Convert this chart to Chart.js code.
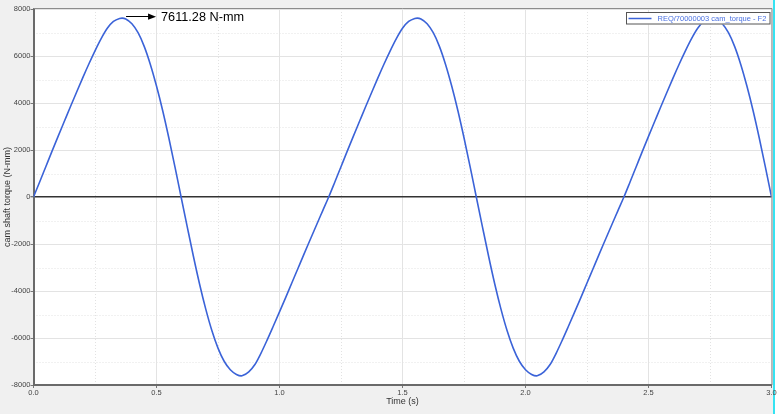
<!DOCTYPE html>
<html><head><meta charset="utf-8">
<script src="https://cdn.jsdelivr.net/npm/chart.js@4/dist/chart.umd.min.js"></script>
<style>html,body{margin:0;padding:0;background:#f0f0f0;overflow:hidden}canvas{display:block}</style>
</head><body>
<canvas id="c" width="779" height="414"></canvas>
<script>
// ---- data ----
const timeS = [
  0, 0.025, 0.05, 0.075, 0.1, 0.125, 0.15, 0.175, 0.2, 0.225, 0.25, 0.275, 0.3, 0.325, 0.35, 0.36, 0.375, 0.4, 0.425, 0.45, 0.475, 0.5, 0.525, 0.55, 0.575,
  0.6, 0.625, 0.65, 0.675, 0.7, 0.725, 0.75, 0.775, 0.8, 0.825, 0.845, 0.85, 0.875, 0.9, 0.925, 0.95, 0.975, 1.0, 1.025, 1.05, 1.075, 1.1, 1.125, 1.15, 1.175,
  1.2, 1.225, 1.25, 1.275, 1.3, 1.325, 1.35, 1.375, 1.4, 1.425, 1.45, 1.475, 1.5, 1.525, 1.55, 1.56, 1.575, 1.6, 1.625, 1.65, 1.675, 1.7, 1.725, 1.75, 1.775,
  1.8, 1.825, 1.85, 1.875, 1.9, 1.925, 1.95, 1.975, 2.0, 2.025, 2.045, 2.05, 2.075, 2.1, 2.125, 2.15, 2.175, 2.2, 2.225, 2.25, 2.275, 2.3, 2.325, 2.35, 2.375,
  2.4, 2.425, 2.45, 2.475, 2.5, 2.525, 2.55, 2.575, 2.6, 2.625, 2.65, 2.675, 2.7, 2.725, 2.75, 2.76, 2.775, 2.8, 2.825, 2.85, 2.875, 2.9, 2.925, 2.95, 2.975, 3.0
];
const torqueNmm = [
  0, 640, 1290, 1940, 2580, 3210, 3840, 4460, 5070, 5660, 6220, 6740, 7180, 7470, 7600, 7611.28, 7575, 7370, 6990, 6410, 5640, 4720, 3680, 2520, 1280,
  0, -1270, -2520, -3700, -4760, -5680, -6430, -6990, -7350, -7550, -7611.28, -7600, -7440, -7130, -6640, -6080, -5490, -4890, -4280, -3660, -3040, -2420, -1810, -1200, -600,
  0, 640, 1290, 1940, 2580, 3210, 3840, 4460, 5070, 5660, 6220, 6740, 7180, 7470, 7600, 7611.28, 7575, 7370, 6990, 6410, 5640, 4720, 3680, 2520, 1280,
  0, -1270, -2520, -3700, -4760, -5680, -6430, -6990, -7350, -7550, -7611.28, -7600, -7440, -7130, -6640, -6080, -5490, -4890, -4280, -3660, -3040, -2420, -1810, -1200, -600,
  0, 640, 1290, 1940, 2580, 3210, 3840, 4460, 5070, 5660, 6220, 6740, 7180, 7470, 7600, 7611.28, 7575, 7370, 6990, 6410, 5640, 4720, 3680, 2520, 1280, 0
];
const seriesName = 'REQ/70000003 cam_torque - F2';
const peakTime = 0.36;
const peakValue = 7611.28;
const peakLabel = '7611.28 N-mm';
const xTitle = 'Time (s)';
const yTitle = 'cam shaft torque (N-mm)';
const xRange = [0, 3];
const yRange = [-8000, 8000];

// ---- styling ----
const FONT = "'Liberation Sans', Arial, sans-serif";
const LINE = '#3b63d8';
const isMajorX = v => Math.abs(v * 2 - Math.round(v * 2)) < 1e-6;
const isMajorY = v => Math.abs(v / 2000 - Math.round(v / 2000)) < 1e-6;

function fitFont(ctx, text, target, weight) {
  ctx.font = (weight || '') + ' 10px ' + FONT;
  const w = ctx.measureText(text).width;
  return 10 * target / w;
}

const decor = {
  id: 'decor',
  beforeDraw(chart) {
    const { ctx, chartArea: a, width, height } = chart;
    const xs = chart.scales.x, ys = chart.scales.y;
    ctx.save();
    ctx.fillStyle = '#f0f0f0';
    ctx.fillRect(0, 0, width, height);
    ctx.fillStyle = '#ffffff';
    ctx.fillRect(a.left, a.top, a.right - a.left, a.bottom - a.top);
    ctx.fillRect(a.right + 3.5, 0, width - a.right, height);
    ctx.strokeStyle = '#35e3f2';
    ctx.lineWidth = 2;
    ctx.beginPath(); ctx.moveTo(a.right + 2.5, 0); ctx.lineTo(a.right + 2.5, height); ctx.stroke();
    // minor dotted grid
    ctx.strokeStyle = '#e2e2e2';
    ctx.lineWidth = 1;
    ctx.setLineDash([1, 2]);
    ctx.beginPath();
    for (const t of xs.ticks) {
      if (!isMajorX(t.value)) {
        const p = Math.round(xs.getPixelForValue(t.value)) + 0.5;
        ctx.moveTo(p, a.top); ctx.lineTo(p, a.bottom);
      }
    }
    for (const t of ys.ticks) {
      if (!isMajorY(t.value)) {
        const p = Math.round(ys.getPixelForValue(t.value)) + 0.5;
        ctx.moveTo(a.left, p); ctx.lineTo(a.right, p);
      }
    }
    ctx.stroke();
    ctx.restore();
  },
  afterDraw(chart) {
    const { ctx, chartArea: a } = chart;
    const xs = chart.scales.x, ys = chart.scales.y;
    ctx.save();
    // top / right frame
    ctx.strokeStyle = '#8c8c8c';
    ctx.lineWidth = 1;
    ctx.beginPath();
    ctx.moveTo(a.left, a.top - 0.5); ctx.lineTo(a.right + 0.5, a.top - 0.5); ctx.lineTo(a.right + 0.5, a.bottom);
    ctx.stroke();

    // legend box inside plot
    const bx = a.right - 145.5, by = a.top + 3, bw = 144.5, bh = 12.5;
    ctx.fillStyle = '#ffffff';
    ctx.fillRect(bx, by, bw, bh);
    ctx.strokeStyle = '#555555';
    ctx.strokeRect(bx + 0.5, by + 0.5, bw - 1, bh - 1);
    ctx.strokeStyle = LINE;
    ctx.lineWidth = 1.5;
    ctx.beginPath(); ctx.moveTo(bx + 2.5, by + 6.5); ctx.lineTo(bx + 25.5, by + 6.5); ctx.stroke();
    const ls = fitFont(ctx, seriesName, 109);
    ctx.font = ls.toFixed(2) + 'px ' + FONT;
    ctx.fillStyle = '#4a70e0';
    ctx.textBaseline = 'middle';
    ctx.textAlign = 'left';
    ctx.fillText(seriesName, bx + 31.5, by + 6.8);

    // peak annotation
    const px = xs.getPixelForValue(peakTime), py = ys.getPixelForValue(peakValue) - 2;
    ctx.strokeStyle = '#000';
    ctx.fillStyle = '#000';
    ctx.lineWidth = 1;
    ctx.beginPath(); ctx.moveTo(px + 4, Math.round(py) + 0.5); ctx.lineTo(px + 27, Math.round(py) + 0.5); ctx.stroke();
    ctx.beginPath();
    ctx.moveTo(px + 26, py - 2.7); ctx.lineTo(px + 34, py + 0.5); ctx.lineTo(px + 26, py + 3.7); ctx.closePath(); ctx.fill();
    const as = fitFont(ctx, peakLabel, 83);
    ctx.font = as.toFixed(2) + 'px ' + FONT;
    ctx.fillText(peakLabel, px + 39, py + 1);
    ctx.restore();
  }
};

new Chart(document.getElementById('c'), {
  type: 'line',
  data: {
    datasets: [{
      label: seriesName,
      data: timeS.map((t, i) => ({ x: t, y: torqueNmm[i] })),
      borderColor: LINE,
      borderWidth: 1.6,
      pointRadius: 0,
      fill: false,
      cubicInterpolationMode: 'monotone'
    }]
  },
  options: {
    responsive: false,
    animation: false,
    layout: { padding: { top: 9, right: 7.5, left: 0, bottom: 0 } },
    plugins: { legend: { display: false }, tooltip: { enabled: false } },
    scales: {
      x: {
        type: 'linear', min: xRange[0], max: xRange[1],
        afterFit(s) { s.height = 29; },
        ticks: {
          stepSize: 0.25, autoSkip: false, maxRotation: 0, padding: 0,
          color: '#444', font: { family: FONT, size: 7.5 },
          callback: v => isMajorX(v) ? v.toFixed(1) : ''
        },
        grid: {
          color: c => isMajorX(c.tick.value) ? '#e3e3e3' : 'rgba(0,0,0,0)',
          lineWidth: 1, tickLength: 3,
          tickColor: c => isMajorX(c.tick.value) ? '#777' : 'rgba(0,0,0,0)'
        },
        border: { color: '#6a6a6a', width: 2 },
        title: { display: true, text: xTitle, color: '#333', font: { family: FONT, size: 9 }, padding: { top: 0, bottom: 7 } }
      },
      y: {
        min: yRange[0], max: yRange[1],
        afterFit(s) { s.width = 33.5; },
        ticks: {
          stepSize: 1000, autoSkip: false, padding: 0,
          color: '#444', font: { family: FONT, size: 7.5 },
          callback: v => isMajorY(v) ? String(v) : ''
        },
        grid: {
          color: c => c.tick.value === 0 ? '#333' : (isMajorY(c.tick.value) ? '#e3e3e3' : 'rgba(0,0,0,0)'),
          lineWidth: c => c.tick.value === 0 ? 1.4 : 1,
          tickLength: 3,
          tickColor: c => isMajorY(c.tick.value) ? '#777' : 'rgba(0,0,0,0)'
        },
        border: { color: '#6a6a6a', width: 2 },
        title: { display: true, text: yTitle, color: '#333', font: { family: FONT, size: 9 }, padding: { top: 2, bottom: 0 } }
      }
    }
  },
  plugins: [decor]
});
</script>
</body></html>
